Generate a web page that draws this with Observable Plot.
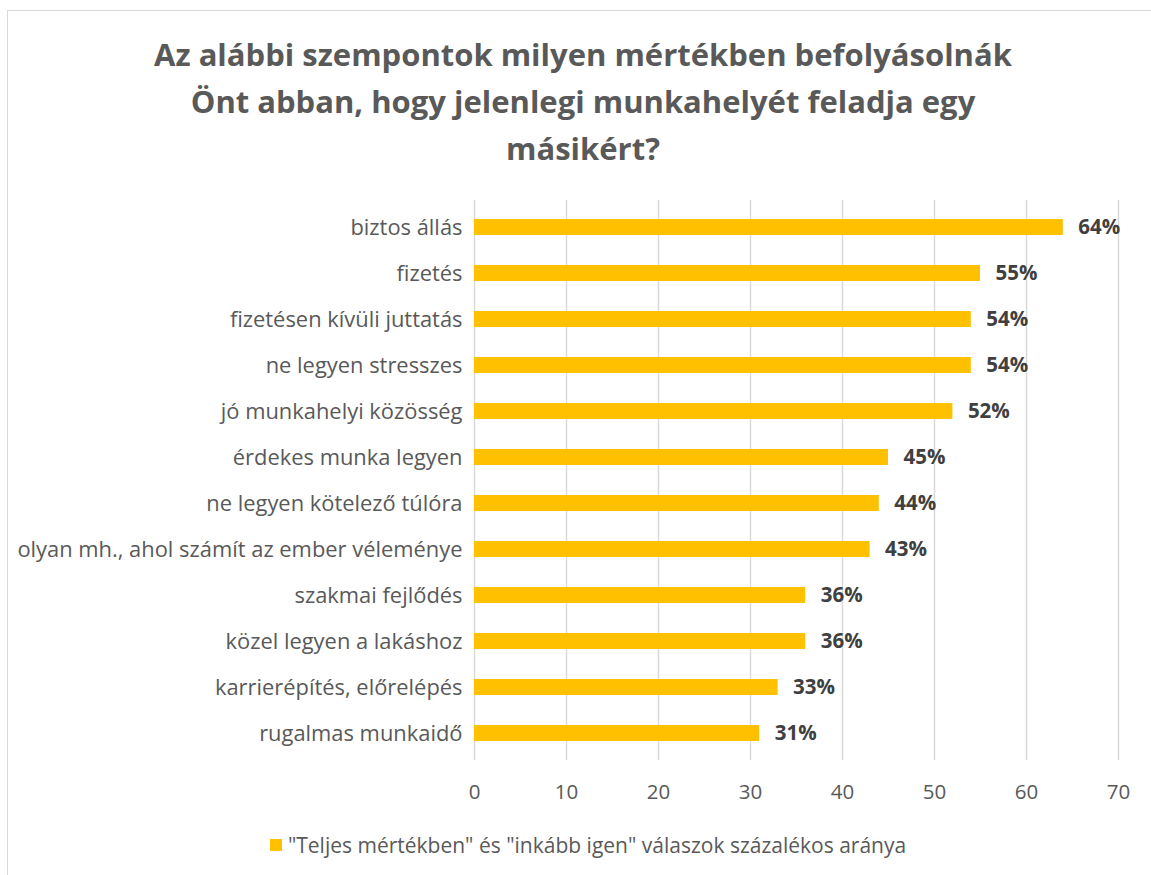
<!DOCTYPE html>
<html>
<head>
<meta charset="utf-8">
<script src="https://cdn.jsdelivr.net/npm/d3@7"></script>
<script src="https://cdn.jsdelivr.net/npm/@observablehq/plot@0.6"></script>
<style>
  html, body { margin: 0; padding: 0; background: #fff; }
  body { width: 1151px; height: 875px; position: relative; overflow: hidden; font-family: "Open Sans", sans-serif; }
  #frame { position: absolute; left: 7px; top: 10px; width: 1160px; height: 880px; border: 1px solid #d9d9d9; box-sizing: border-box; }
  #title { position: absolute; left: 0; top: 31px; width: 1166px; text-align: center; font-weight: bold; font-size: 31px; line-height: 47px; color: #595959; }
  #chart { position: absolute; left: 0; top: 189px; }
  #legend { position: absolute; left: 0; top: 831px; width: 1176px; display: flex; justify-content: center; align-items: center; font-size: 21px; color: #595959; }
  #legend .sw { width: 12px; height: 12px; background: #FFC000; margin-right: 6px; }
</style>
</head>
<body>
<div id="frame"></div>
<div id="title">Az alábbi szempontok milyen mértékben befolyásolnák<br>Önt abban, hogy jelenlegi munkahelyét feladja egy<br>másikért?</div>
<div id="chart"></div>
<div id="legend"><span class="sw"></span><span id="legendText"></span></div>
<script>
const categories = [
  "biztos állás",
  "fizetés",
  "fizetésen kívüli juttatás",
  "ne legyen stresszes",
  "jó munkahelyi közösség",
  "érdekes munka legyen",
  "ne legyen kötelező túlóra",
  "olyan mh., ahol számít az ember véleménye",
  "szakmai fejlődés",
  "közel legyen a lakáshoz",
  "karrierépítés, előrelépés",
  "rugalmas munkaidő"
];
const values = [64, 55, 54, 54, 52, 45, 44, 43, 36, 36, 33, 31];
const xTicks = [0, 10, 20, 30, 40, 50, 60, 70];
const seriesName = "\"Teljes mértékben\" és \"inkább igen\" válaszok százalékos aránya";

document.getElementById("legendText").textContent = seriesName;

const data = categories.map((c, i) => ({ category: c, value: values[i] }));

const chart = Plot.plot({
  width: 1151,
  height: 620,
  marginTop: 11,
  marginBottom: 49,
  marginLeft: 474,
  marginRight: 33,
  style: { fontFamily: "Open Sans, sans-serif", background: "transparent" },
  x: { domain: [0, 70], ticks: xTicks },
  y: { domain: categories, paddingInner: 0.645, paddingOuter: 0.3225 },
  marks: [
    Plot.gridX(xTicks, { stroke: "#d9d9d9", strokeOpacity: 1, strokeWidth: 1.5 }),
    Plot.barX(data, { x: "value", y: "category", fill: "#FFC000" }),
    Plot.text(data, {
      x: "value", y: "category", text: d => `${d.value}%`,
      textAnchor: "start", dx: 15, fill: "#404040", fontWeight: "bold", fontSize: 20.5
    }),
    Plot.axisX({ ticks: xTicks, tickSize: 0, tickPadding: 24, fontSize: 20.5, color: "#595959", label: null }),
    Plot.axisY({ tickSize: 0, tickPadding: 12, fontSize: 21.9, color: "#595959", label: null })
  ]
});
document.getElementById("chart").appendChild(chart);
</script>
</body>
</html>
